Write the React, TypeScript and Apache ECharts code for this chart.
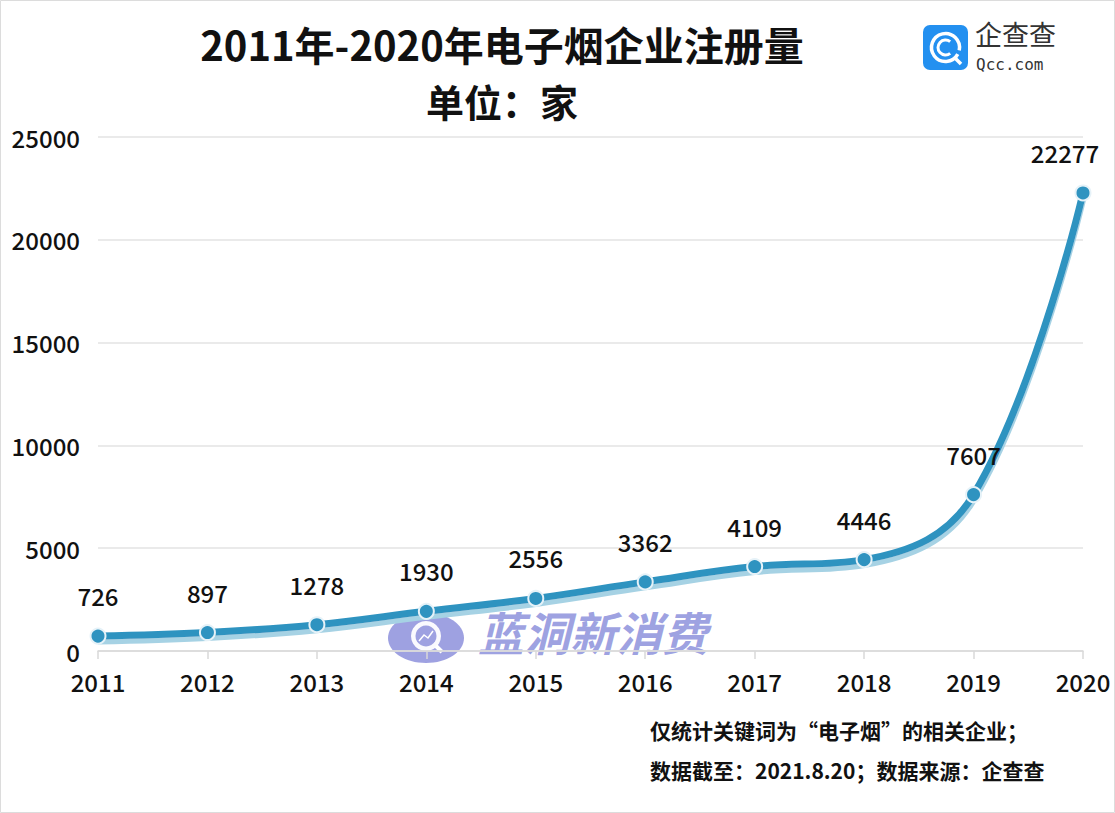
import React, { useEffect, useRef } from "react";
import * as echarts from "echarts";

const years = ["2011", "2012", "2013", "2014", "2015", "2016", "2017", "2018", "2019", "2020"];
const counts = [726, 897, 1278, 1930, 2556, 3362, 4109, 4446, 7607, 22277];
const titleLines = ["2011年-2020年电子烟企业注册量", "单位：家"];
const notes = ["仅统计关键词为“电子烟”的相关企业；", "数据截至：2021.8.20；数据来源：企查查"];

const FONT = "'Noto Sans CJK SC', 'Noto Sans', sans-serif";

export default function App() {
  const ref = useRef<HTMLDivElement>(null);
  useEffect(() => {
    const chart = echarts.init(ref.current!, null, { renderer: "svg" });
    const seriesData = counts.map((v, i) =>
      i === counts.length - 1 ? { value: v, label: { offset: [-18, 0] } } : v
    );
    chart.setOption({
      animation: false,
      backgroundColor: "#ffffff",
      textStyle: { fontFamily: FONT },
      grid: { left: 98, right: 32, top: 137, bottom: 162 },
      xAxis: {
        type: "category",
        data: years,
        boundaryGap: false,
        axisLine: { lineStyle: { color: "#d9d9d9", width: 1.5 } },
        axisTick: { show: true, length: 8, lineStyle: { color: "#d9d9d9", width: 1.5 } },
        axisLabel: { color: "#111", fontSize: 24, fontWeight: 500, margin: 18, fontFamily: FONT },
      },
      yAxis: {
        type: "value",
        min: 0,
        max: 25000,
        interval: 5000,
        axisLine: { show: false },
        axisTick: { show: false },
        splitLine: { lineStyle: { color: "#e3e3e3", width: 1.5 } },
        axisLabel: {
          color: "#111",
          fontSize: 24,
          fontWeight: 500,
          margin: 18,
          fontFamily: FONT,
          formatter: (v: number) => String(v),
        },
      },
      graphic: [
        {
          type: "rect",
          shape: { x: 0.5, y: 0.5, width: 1114, height: 812 },
          style: { fill: "none", stroke: "#dcdcdc", lineWidth: 1 },
          silent: true,
        },
        {
          type: "text",
          x: 502,
          y: 44,
          style: { text: titleLines[0], font: `bold 40px ${FONT}`, fill: "#111", textAlign: "center", textVerticalAlign: "middle" },
        },
        {
          type: "text",
          x: 502,
          y: 100,
          style: { text: titleLines[1], font: `bold 38px ${FONT}`, fill: "#111", textAlign: "center", textVerticalAlign: "middle" },
        },
        {
          type: "group",
          x: 923,
          y: 25,
          children: [
            { type: "rect", shape: { x: 0, y: 0, width: 45, height: 45, r: 7 }, style: { fill: "#2390f0" } },
            { type: "arc", shape: { cx: 22.5, cy: 22.5, r: 14, startAngle: 0.5, endAngle: 0.2 + Math.PI * 2 }, style: { fill: "none", stroke: "#fff", lineWidth: 3.5 } },
            { type: "arc", shape: { cx: 22.5, cy: 22.5, r: 7.5, startAngle: 0.9, endAngle: -0.9 + Math.PI * 2 }, style: { fill: "none", stroke: "#fff", lineWidth: 3 } },
            { type: "line", shape: { x1: 31, y1: 32, x2: 38, y2: 39 }, style: { stroke: "#fff", lineWidth: 3.5 } },
            { type: "text", x: 52, y: -5, style: { text: "企查查", font: `27px ${FONT}`, fill: "#333" } },
            { type: "text", x: 53, y: 31, style: { text: "Qcc.com", font: `16px 'DejaVu Sans Mono', monospace`, fill: "#333" } },
          ],
        },
        {
          type: "group",
          x: 388,
          y: 606,
          z: -1,
          silent: true,
          children: [
            { type: "ellipse", shape: { cx: 38, cy: 32, rx: 38, ry: 25 }, style: { fill: "#8d91dc", opacity: 0.85 } },
            { type: "circle", shape: { cx: 38, cy: 30, r: 15 }, style: { fill: "#fff", opacity: 0.95 } },
            { type: "circle", shape: { cx: 38, cy: 30, r: 10.5 }, style: { fill: "#8d91dc", opacity: 0.85 } },
            { type: "polyline", shape: { points: [[31, 35], [36, 29], [40, 32], [45, 25]] }, style: { stroke: "#fff", lineWidth: 1.5, fill: "none" } },
            { type: "line", shape: { x1: 48, y1: 40, x2: 54, y2: 46 }, style: { stroke: "#fff", lineWidth: 4 } },
            {
              type: "text",
              x: 90,
              y: 2,
              style: { text: "蓝洞新消费", font: `italic bold 46px ${FONT}`, fill: "#8d91dc", opacity: 0.85 },
            },
          ],
        },
        {
          type: "text",
          x: 650,
          y: 719,
          style: { text: notes[0], font: `bold 21px ${FONT}`, fill: "#111" },
        },
        {
          type: "text",
          x: 650,
          y: 759,
          style: { text: notes[1], font: `bold 21px ${FONT}`, fill: "#111" },
        },
      ],
      series: [
        {
          type: "line",
          data: seriesData,
          smooth: 0.4,
          symbol: "circle",
          symbolSize: 15,
          itemStyle: { color: "#2f93c0", borderColor: "#e6f2f8", borderWidth: 2 },
          lineStyle: {
            color: "#2f93c0",
            width: 7,
            shadowColor: "#a6d2e4",
            shadowBlur: 0,
            shadowOffsetY: 5,
          },
          label: {
            show: true,
            position: "top",
            distance: 20,
            color: "#111",
            fontSize: 24,
            fontWeight: 500,
            fontFamily: FONT,
          },
          z: 5,
        },
      ],
    });
    return () => chart.dispose();
  }, []);
  return <div ref={ref} style={{ position: "absolute", left: 0, top: 0, width: 1115, height: 813 }} />;
}
